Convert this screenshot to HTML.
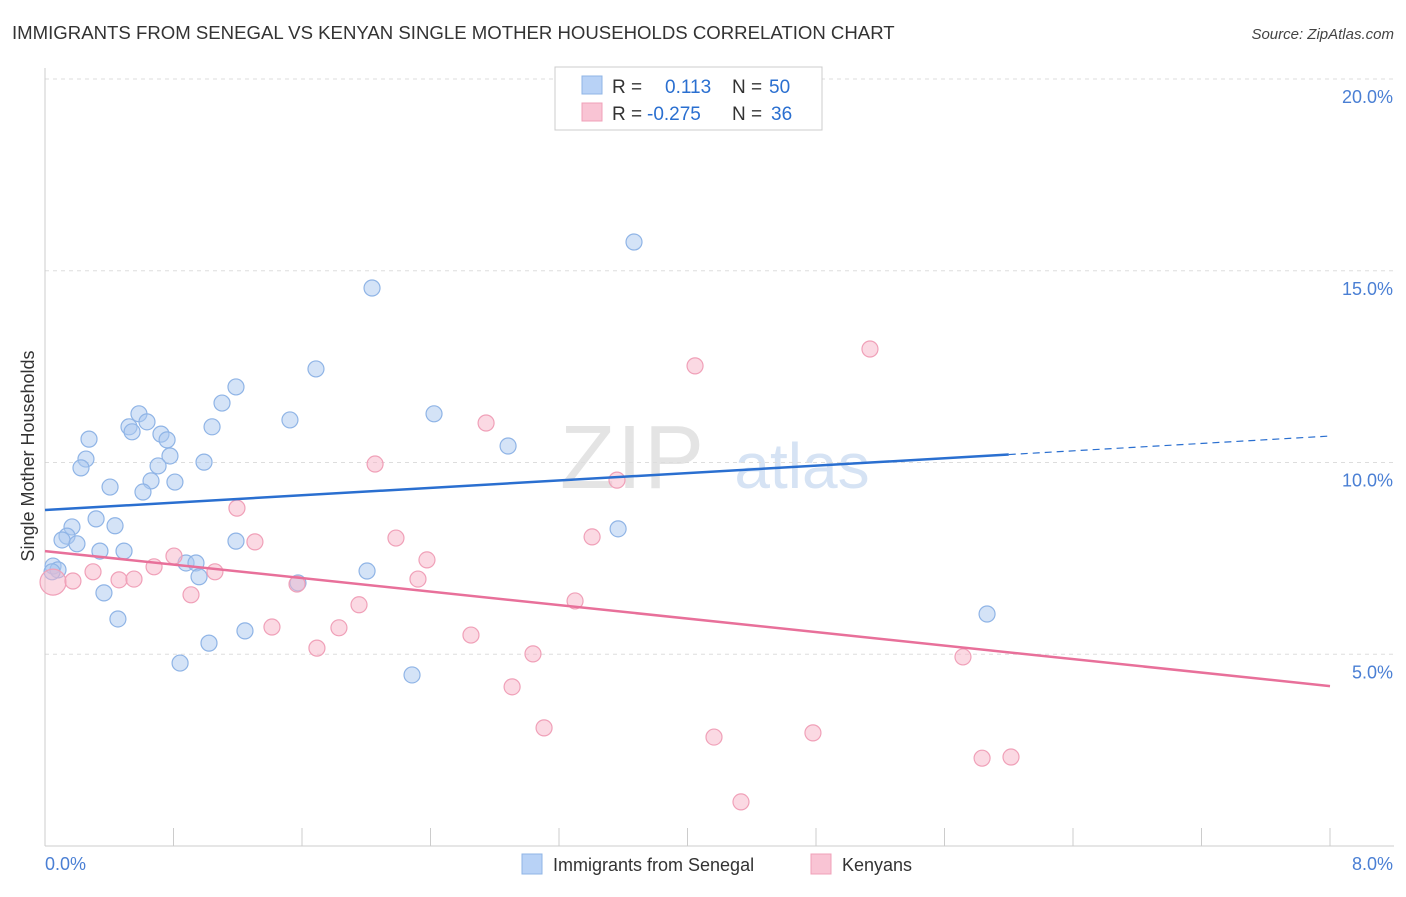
<!DOCTYPE html>
<html><head><meta charset="utf-8">
<style>
body{margin:0;background:#fff;font-family:"Liberation Sans",sans-serif;}
svg text{font-family:"Liberation Sans",sans-serif;}
</style></head>
<body>
<svg id="chart" width="1406" height="892" viewBox="0 0 1406 892">
<text x="12" y="39" font-size="18.6" fill="#333">IMMIGRANTS FROM SENEGAL VS KENYAN SINGLE MOTHER HOUSEHOLDS CORRELATION CHART</text>
<text x="1394" y="39" font-size="15" fill="#444" text-anchor="end" font-style="italic">Source: ZipAtlas.com</text>
<g>
<text x="633" y="488" font-size="90" fill="#e4e4e4" text-anchor="middle" font-family="Liberation Serif" letter-spacing="2">ZIP</text>
<text x="802" y="488" font-size="64" fill="#d6e3f4" text-anchor="middle">atlas</text>
</g>
<g id="grid"></g>
<g id="axes"></g>
<g id="marks"></g>
<text transform="translate(34,456) rotate(-90)" font-size="18" fill="#333" text-anchor="middle">Single Mother Households</text>
<g>
<rect x="555" y="67" width="267" height="63" fill="#fff" stroke="#ccc"/>
<rect x="582" y="76" width="20" height="18" fill="#b8d2f6" stroke="#8fb4e6"/>
<rect x="582" y="103" width="20" height="18" fill="#f9c4d4" stroke="#f0a0b8"/>
<text x="612" y="93" font-size="19" fill="#333">R =</text>
<text x="665" y="93" font-size="19" fill="#2a6fd0">0.113</text>
<text x="732" y="93" font-size="19" fill="#333">N =</text>
<text x="769" y="93" font-size="19" fill="#2a6fd0">50</text>
<text x="612" y="120" font-size="19" fill="#333">R =</text>
<text x="647" y="120" font-size="19" fill="#2a6fd0">-0.275</text>
<text x="732" y="120" font-size="19" fill="#333">N =</text>
<text x="771" y="120" font-size="19" fill="#2a6fd0">36</text>
</g>
<g>
<rect x="522" y="854" width="20" height="20" fill="#b8d2f6" stroke="#8fb4e6"/>
<text x="553" y="871" font-size="18" fill="#333">Immigrants from Senegal</text>
<rect x="811" y="854" width="20" height="20" fill="#f9c4d4" stroke="#f0a0b8"/>
<text x="842" y="871" font-size="18" fill="#333">Kenyans</text>
</g>
</svg>
<script>
const xTicks=[0,0.8,1.6,2.4,3.2,4,4.8,5.6,6.4,7.2,8];
const yTickVals=[5,10,15,20];
const yTickLabels=["5.0%","10.0%","15.0%","20.0%"];
const blueX=[3.667,2.036,1.687,1.189,2.422,1.102,0.585,0.635,1.525,0.523,1.040,0.542,0.722,0.760,0.274,2.883,0.255,0.224,0.778,0.704,0.990,0.660,0.809,0.405,0.610,0.318,0.168,0.436,3.568,0.137,0.106,0.199,1.189,0.342,0.492,0.878,0.940,0.05,0.081,2.005,0.959,1.575,0.367,5.865,0.454,1.245,1.021,0.841,2.285,0.044];
const blueY=[15.75,14.55,12.44,11.97,11.27,11.55,11.27,11.06,11.11,10.93,10.93,10.80,10.74,10.59,10.61,10.43,10.09,9.86,10.17,9.91,10.01,9.52,9.49,9.36,9.23,8.53,8.32,8.35,8.27,8.08,7.98,7.88,7.95,7.69,7.69,7.38,7.38,7.30,7.20,7.17,7.02,6.86,6.60,6.05,5.92,5.61,5.29,4.77,4.46,7.15];
const pinkX=[0.05,5.136,4.047,2.746,2.055,3.561,1.195,3.406,2.185,1.307,2.378,0.803,0.679,0.299,1.058,0.461,0.554,0.174,2.322,1.569,0.909,1.955,3.300,1.413,1.830,2.652,1.693,3.038,5.715,2.908,3.107,4.781,4.165,5.834,6.014,4.333];
const pinkY=[6.88,12.96,12.52,11.03,9.96,9.54,8.81,8.06,8.03,7.93,7.46,7.56,7.28,7.15,7.15,6.94,6.96,6.91,6.96,6.83,6.55,6.29,6.39,5.71,5.69,5.50,5.16,5.01,4.93,4.15,3.08,2.95,2.84,2.29,2.32,1.15];
const blueTrend=[8.76,10.69];
const pinkTrend=[7.69,4.17];
const blueSolidEnd=6.0;

const X=v=>45+v/8*1285;
const Y=v=>846-v*38.35;
const NS="http://www.w3.org/2000/svg";
function mk(tag,attrs,parent){const e=document.createElementNS(NS,tag);for(const k in attrs)e.setAttribute(k,attrs[k]);parent.appendChild(e);return e;}
const gridG=document.getElementById('grid'),axesG=document.getElementById('axes'),marksG=document.getElementById('marks');
yTickVals.forEach((v,i)=>{
 const l=mk('line',{x1:45,x2:1394,y1:Y(v),y2:Y(v),stroke:'#ddd','stroke-dasharray':'4,4'},gridG);
 
 
 const t=mk('text',{x:1393,y:Y(v)+24,'font-size':18,fill:'#4a7fd4','text-anchor':'end'},axesG);
 t.textContent=yTickLabels[i];
 
 
});
const topGrid=mk('line',{x1:45,x2:1394,y1:79,y2:79,stroke:'#ddd','stroke-dasharray':'4,4'},gridG);


const ya=mk('line',{x1:45,x2:45,y1:68,y2:846,stroke:'#ccc'},axesG);


const xa=mk('line',{x1:45,x2:1394,y1:846,y2:846,stroke:'#ccc'},axesG);


xTicks.forEach(v=>{
 const l=mk('line',{x1:X(v),x2:X(v),y1:828,y2:846,stroke:'#ccc'},axesG);
 
 
});
const t0=mk('text',{x:45,y:870,'font-size':18,fill:'#4a7fd4'},axesG);t0.textContent="0.0%";


const t1=mk('text',{x:1393,y:870,'font-size':18,fill:'#4a7fd4','text-anchor':'end'},axesG);t1.textContent="8.0%";



blueX.forEach((x,i)=>{
 const c=mk('circle',{cx:X(x),cy:Y(blueY[i]),r:8,fill:'rgba(170,200,240,0.5)',stroke:'#8fb4e6','stroke-width':1.2},marksG);
 
 
});
pinkX.forEach((x,i)=>{
 const c=mk('circle',{cx:X(x),cy:Y(pinkY[i]),r:i===0?13:8,fill:'rgba(248,180,200,0.5)',stroke:'#f0a0b8','stroke-width':1.2},marksG);
 
 
});
const bAt=v=>blueTrend[0]+(blueTrend[1]-blueTrend[0])*v/8;
const bl=mk('line',{x1:X(0),y1:Y(blueTrend[0]),x2:X(blueSolidEnd),y2:Y(bAt(blueSolidEnd)),stroke:'#2a6fd0','stroke-width':2.5},marksG);


const bd=mk('line',{x1:X(blueSolidEnd),y1:Y(bAt(blueSolidEnd)),x2:X(8),y2:Y(blueTrend[1]),stroke:'#2a6fd0','stroke-width':1.2,'stroke-dasharray':'7,5'},marksG);


const pl=mk('line',{x1:X(0),y1:Y(pinkTrend[0]),x2:X(8),y2:Y(pinkTrend[1]),stroke:'#e8709a','stroke-width':2.5},marksG);


</script>
</body></html>
